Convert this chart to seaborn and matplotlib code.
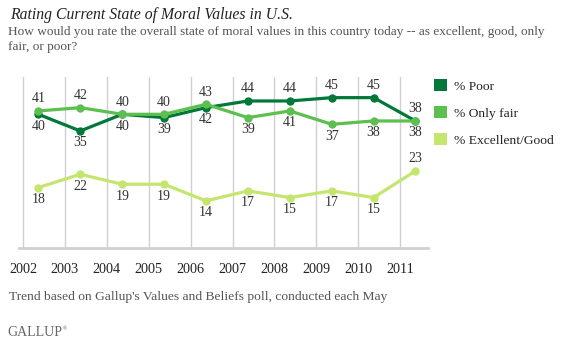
import numpy as np
import pandas as pd
import matplotlib
matplotlib.use("Agg")
import matplotlib.pyplot as plt
import matplotlib.dates as mdates
from matplotlib.patches import Patch
import seaborn as sns

# Survey years (fielded each May) and results
years = [2002, 2003, 2004, 2005, 2006, 2007, 2008, 2009, 2010, 2011]
poor = [40, 35, 40, 39, 42, 44, 44, 45, 45, 38]
only_fair = [41, 42, 40, 40, 43, 39, 41, 37, 38, 38]
excellent_good = [18, 22, 19, 19, 14, 17, 15, 17, 15, 23]

series_names = ["% Poor", "% Only fair", "% Excellent/Good"]
series_values = [poor, only_fair, excellent_good]
colors = ["#00783A", "#5CBF4F", "#C4E56E"]
year_labels = [str(y) for y in years]

title = "Rating Current State of Moral Values in U.S."
subtitle = ("How would you rate the overall state of moral values in this country today -- as excellent, good, only\n"
            "fair, or poor?")
footnote = "Trend based on Gallup's Values and Beliefs poll, conducted each May"

sns.set_theme(style="white")
plt.rcParams["font.family"] = ["Liberation Serif", "DejaVu Serif"]

survey_dates = pd.to_datetime([f"{y}-05-15" for y in years])
df = pd.concat(
    [pd.DataFrame({"date": survey_dates, "value": vals, "series": name})
     for name, vals in zip(series_names, series_values)],
    ignore_index=True,
)

W, H = 564, 343
fig = plt.figure(figsize=(W / 100, H / 100), dpi=100)
ax = fig.add_axes([19 / W, (H - 247.5) / H, (428 - 19) / W, (247.5 - 77) / H])

palette = dict(zip(series_names, colors))
sns.lineplot(data=df, x="date", y="value", hue="series", hue_order=series_names,
             palette=palette, marker="o", markersize=6, markeredgewidth=0,
             linewidth=2.3, legend=False, ax=ax, zorder=3)

ax.set_xlim(pd.Timestamp("2001-11-27"), pd.Timestamp("2011-09-01"))
ax.set_ylim(0, 51.2)

# Vertical grid at each January 1
tick_dates = pd.to_datetime([f"{y}-01-01" for y in years])
for d in tick_dates:
    ax.axvline(d, color="#d0d0d0", linewidth=1.0, zorder=1)
ax.set_xticks(tick_dates)
ax.set_xticklabels(year_labels, fontsize=10.2, color="#222222")
ax.tick_params(axis="x", length=0, pad=11)
ax.set_yticks([])
ax.set_xlabel("")
ax.set_ylabel("")
for side in ["top", "left", "right"]:
    ax.spines[side].set_visible(False)
ax.spines["bottom"].set_color("#d0d0d0")
ax.spines["bottom"].set_linewidth(2.0)

# Value labels above (+1) or below (-1) each point
label_sides = [
    [-1, -1, -1, -1, -1, 1, 1, 1, 1, 1],
    [1, 1, 1, 1, 1, -1, -1, -1, -1, -1],
    [-1, -1, -1, -1, -1, -1, -1, -1, -1, 1],
]
for vals, sides in zip(series_values, label_sides):
    for d, v, s in zip(survey_dates, vals, sides):
        ax.annotate(str(v), (d, v), xytext=(0, 12 * s), textcoords="offset pixels",
                    ha="center", va="center", fontsize=10, color="#333333",
                    zorder=5)

# Legend with square swatches
handles = [Patch(facecolor=c, edgecolor="none", label=n) for n, c in zip(series_names, colors)]
fig.legend(handles=handles, loc="upper left", bbox_to_anchor=(429 / W, 1 - 74 / H),
           frameon=False, fontsize=9.7, handlelength=0.95, handleheight=0.95,
           handletextpad=0.5, labelspacing=1.0, borderaxespad=0, labelcolor="#222222")

fig.text(10 / W, 1 - 15 / H, title, fontsize=11.3, style="italic", color="#222222",
         ha="left", va="center")
fig.text(8 / W, 1 - 39.5 / H, subtitle, fontsize=9.5, color="#555555", ha="left",
         va="center", linespacing=1.4)
fig.text(9 / W, 1 - 297 / H, footnote, fontsize=9.7, color="#555555", ha="left", va="center")
brand = fig.text(7 / W, 1 - 332 / H, "GALLUP", fontsize=10, color="#666666", ha="left",
                 va="center")
ax.annotate("\u00ae", xy=(1, 1), xycoords=brand, xytext=(1, -3), textcoords="offset pixels",
            fontsize=4, color="#666666", ha="left", va="center", annotation_clip=False)

fig.savefig("out.png", dpi=100, facecolor="white")
